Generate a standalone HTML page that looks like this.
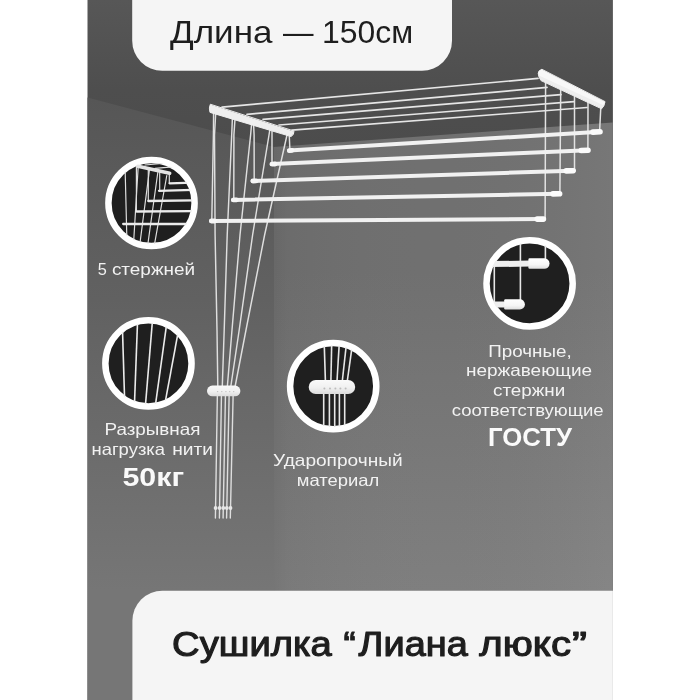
<!DOCTYPE html>
<html lang="ru">
<head>
<meta charset="utf-8">
<title>Сушилка “Лиана люкс”</title>
<style>
  html, body { margin: 0; padding: 0; background: #ffffff; }
  body { width: 700px; height: 700px; overflow: hidden; font-family: "Liberation Sans", sans-serif; }
  svg { display: block; }
  text { font-family: "Liberation Sans", sans-serif; }
  .hd { fill: #1e1e1e; font-size: 31.5px; }
  .ft { fill: #1e1e1e; font-size: 35.2px; stroke: #1e1e1e; stroke-width: 1.15px; stroke-linejoin: round; }
  .lbl { fill: #f2f2f2; font-size: 16.5px; }
  .big { fill: #fafafa; font-size: 25px; font-weight: bold; }
</style>
</head>
<body>
<svg width="700" height="700" viewBox="0 0 700 700">
  <defs>
    <linearGradient id="gCeil" gradientUnits="userSpaceOnUse" x1="0" y1="0" x2="0" y2="150">
      <stop offset="0" stop-color="#575757"/>
      <stop offset="0.6" stop-color="#4e4e4e"/>
      <stop offset="1" stop-color="#4c4c4c"/>
    </linearGradient>
    <linearGradient id="gLeft" gradientUnits="userSpaceOnUse" x1="0" y1="97" x2="0" y2="590">
      <stop offset="0" stop-color="#565656"/>
      <stop offset="0.41" stop-color="#616161"/>
      <stop offset="1" stop-color="#767676"/>
    </linearGradient>
    <linearGradient id="gRight" gradientUnits="userSpaceOnUse" x1="0" y1="122" x2="0" y2="590">
      <stop offset="0" stop-color="#707070"/>
      <stop offset="0.32" stop-color="#707070"/>
      <stop offset="1" stop-color="#7f7f7f"/>
    </linearGradient>
    <linearGradient id="gCorner" x1="0" y1="0" x2="1" y2="0">
      <stop offset="0" stop-color="#000000" stop-opacity="0.03"/>
      <stop offset="1" stop-color="#000000" stop-opacity="0"/>
    </linearGradient>
    <linearGradient id="gRightH" gradientUnits="userSpaceOnUse" x1="274" y1="0" x2="613" y2="0">
      <stop offset="0" stop-color="#000000" stop-opacity="0.045"/>
      <stop offset="0.5" stop-color="#808080" stop-opacity="0"/>
      <stop offset="1" stop-color="#ffffff" stop-opacity="0.05"/>
    </linearGradient>
    <linearGradient id="gCap" x1="0" y1="0" x2="0" y2="1">
      <stop offset="0" stop-color="#ffffff"/>
      <stop offset="0.6" stop-color="#f6f6f6"/>
      <stop offset="1" stop-color="#dedede"/>
    </linearGradient>
    <linearGradient id="gClip" x1="0" y1="0" x2="0" y2="1">
      <stop offset="0" stop-color="#fafafa"/>
      <stop offset="0.55" stop-color="#f0f0f0"/>
      <stop offset="1" stop-color="#dcdcdc"/>
    </linearGradient>
    <filter id="soft" x="0" y="0" width="700" height="700" filterUnits="userSpaceOnUse" color-interpolation-filters="sRGB">
      <feGaussianBlur stdDeviation="0.35"/>
    </filter>
    <clipPath id="c1"><circle cx="151.5" cy="203" r="41"/></clipPath>
    <clipPath id="c2"><circle cx="148.45" cy="363.4" r="41"/></clipPath>
    <clipPath id="c3"><circle cx="333.2" cy="386.2" r="41"/></clipPath>
    <clipPath id="c4"><circle cx="529.6" cy="283.4" r="41"/></clipPath>
  </defs>

  <!-- page -->
  <rect x="0" y="0" width="700" height="700" fill="#ffffff"/>

  <!-- room -->
  <g id="room">
    <rect x="87.5" y="0" width="525.4" height="700" fill="url(#gCeil)"/>
    <polygon points="87.5,97.4 274,147 274,700 87.5,700" fill="url(#gLeft)"/>
    <polygon points="274,147 612.9,122.5 612.9,700 274,700" fill="url(#gRight)"/>
    <rect x="274" y="147" width="14" height="553" fill="url(#gCorner)"/>
    <polygon points="274,147 612.9,122.5 612.9,700 274,700" fill="url(#gRightH)"/>
  </g>

  <!-- dryer -->
  <g id="dryer" stroke-linecap="round" fill="none" filter="url(#soft)">
    <!-- ceiling strings -->
    <g stroke="#e6e6e6" stroke-width="1.7">
      <line x1="222" y1="107.2" x2="538" y2="78.4"/>
      <line x1="247" y1="114.3" x2="547" y2="87.4"/>
      <line x1="263" y1="119.3" x2="561" y2="94.6"/>
      <line x1="279" y1="125" x2="574" y2="101.6"/>
      <line x1="292" y1="130.2" x2="587" y2="107.5"/>
    </g>
    <!-- right hangers -->
    <g stroke="#e2e2e2" stroke-width="1.5">
      <line x1="545.6" y1="82" x2="545.1" y2="219"/>
      <line x1="560.7" y1="89" x2="559.9" y2="193.5"/>
      <line x1="574.5" y1="96" x2="574.5" y2="170.5"/>
      <line x1="588" y1="102" x2="587.9" y2="150"/>
      <line x1="600.8" y1="107" x2="599.6" y2="131.5"/>
    </g>
    <!-- left hangers + pull cords -->
    <g stroke="#dfdfdf" stroke-width="1.45" stroke-linejoin="round">
      <polyline points="213.6,112 213.4,135 211.8,220"/>
      <polyline points="235,119 233.9,135 233.8,199"/>
      <polyline points="253.6,125 254.1,135 254.2,180"/>
      <polyline points="272,131 272,163.5"/>
      <polyline points="289.3,136 289.9,150"/>
      <polyline points="215.7,113 214.5,135 215.1,235 217,330 217.8,386"/>
      <polyline points="232.4,118 231.7,135 227.2,235 224.2,330 222.3,386"/>
      <polyline points="251.6,124 250.6,135 240,235 232,330 227.4,386"/>
      <polyline points="269.8,130 269,135 252.6,235 239.2,330 230.9,386"/>
      <polyline points="287,135 264.6,235 246,330 235.2,386"/>
    </g>
    <!-- rods -->
    <g stroke="#f1f1f1" stroke-width="4">
      <line x1="289" y1="150.6" x2="600" y2="131.8"/>
      <line x1="271.5" y1="164.1" x2="588" y2="150.2"/>
      <line x1="252.5" y1="181" x2="573" y2="170.7"/>
      <line x1="233" y1="199.9" x2="560" y2="193.8"/>
      <line x1="211" y1="221" x2="544" y2="219.1"/>
    </g>
    <!-- rod caps -->
    <g stroke="#fbfbfb" stroke-width="5.6">
      <line x1="593" y1="132.1" x2="600" y2="131.7"/>
      <line x1="581.2" y1="150.5" x2="588" y2="150.2"/>
      <line x1="566.3" y1="170.9" x2="573.2" y2="170.7"/>
      <line x1="553" y1="193.9" x2="559.6" y2="193.8"/>
      <line x1="537.2" y1="219.1" x2="543.4" y2="219.1"/>
    </g>
    <g stroke="#f6f6f6" stroke-width="4.8">
      <line x1="289.4" y1="150.6" x2="292" y2="150.4"/>
      <line x1="272.2" y1="164.1" x2="275" y2="164"/>
      <line x1="252.9" y1="181" x2="256" y2="180.9"/>
      <line x1="233.4" y1="199.9" x2="236.5" y2="199.8"/>
      <line x1="211.4" y1="221" x2="214.5" y2="221"/>
    </g>
    <!-- brackets -->
    <path d="M210.2,104.6 Q208.6,108 210,112.4 L291.2,136.6 Q294.2,134.6 294,131.4 Z" fill="#efefef" stroke="#efefef" stroke-width="1" stroke-linejoin="round"/>
    <path d="M541.5,69.4 Q535,71.5 541,80.6 L601.6,108.8 Q604.6,106 605,102 Z" fill="#eeeeee" stroke="#eeeeee" stroke-width="1" stroke-linejoin="round"/>
    <path d="M541.5,69.6 Q536,71.8 540,76 L603,105 L605,102 Z" fill="#f8f8f8" stroke="none"/>
    <!-- cords below the clip -->
    <g stroke="#dedede" stroke-width="1.4">
      <line x1="217.4" y1="392" x2="215.4" y2="518"/>
      <line x1="221.5" y1="392" x2="219.4" y2="518"/>
      <line x1="225.5" y1="392" x2="223.1" y2="518"/>
      <line x1="229.2" y1="392" x2="226.6" y2="518"/>
      <line x1="233.2" y1="392" x2="230.3" y2="518"/>
    </g>
    <g fill="#e6e6e6" stroke="none">
      <circle cx="215.6" cy="508" r="1.9"/>
      <circle cx="219.6" cy="508" r="1.9"/>
      <circle cx="223.3" cy="508" r="1.9"/>
      <circle cx="226.8" cy="508" r="1.9"/>
      <circle cx="230.5" cy="508" r="1.9"/>
    </g>
    <rect x="207" y="385.6" width="33.4" height="10.6" rx="5.3" fill="url(#gClip)" stroke="none"/>
    <g fill="#bdbdbd" stroke="none">
      <circle cx="217.6" cy="391.6" r="0.7"/>
      <circle cx="221.8" cy="391.6" r="0.7"/>
      <circle cx="225.9" cy="391.6" r="0.7"/>
      <circle cx="229.7" cy="391.6" r="0.7"/>
      <circle cx="233.7" cy="391.6" r="0.7"/>
    </g>
  </g>

  <!-- circle 1 : 5 rods -->
  <g id="circ1" filter="url(#soft)">
    <circle cx="151.5" cy="203" r="43.1" fill="#1f1f1f" stroke="#ffffff" stroke-width="6.5"/>
    <g clip-path="url(#c1)" stroke="#dedede" fill="none" stroke-linecap="round">
      <g stroke-width="1.2">
        <line x1="125.2" y1="172" x2="126.9" y2="240"/>
        <line x1="136.4" y1="166.5" x2="136.4" y2="211.5"/>
        <line x1="138.2" y1="166.8" x2="133.4" y2="246"/>
        <line x1="148.3" y1="169.5" x2="148.3" y2="201"/>
        <line x1="149.5" y1="169.5" x2="139.6" y2="246"/>
        <line x1="159.7" y1="172.5" x2="159.7" y2="190.8"/>
        <line x1="157.8" y1="172.5" x2="147.6" y2="246"/>
        <line x1="169.3" y1="174.8" x2="169.3" y2="183.3"/>
        <line x1="166.8" y1="175.5" x2="154.2" y2="246"/>
        <line x1="145" y1="165" x2="200" y2="160"/>
        <line x1="155" y1="168.4" x2="200" y2="164.5"/>
      </g>
      <g stroke-width="2.3" stroke="#ececec">
        <line x1="169.6" y1="183.3" x2="200" y2="182.4"/>
        <line x1="159" y1="190.8" x2="200" y2="189.8"/>
        <line x1="148.3" y1="201" x2="200" y2="200.2"/>
        <line x1="136.6" y1="211.5" x2="200" y2="211"/>
        <line x1="123.2" y1="224" x2="200" y2="224"/>
      </g>
      <line x1="138" y1="166.2" x2="169.6" y2="173.3" stroke="#e4e4e4" stroke-width="3.7"/>
    </g>
  </g>

  <!-- circle 2 : strings -->
  <g id="circ2" filter="url(#soft)">
    <circle cx="148.45" cy="363.4" r="43.1" fill="#1f1f1f" stroke="#ffffff" stroke-width="6.5"/>
    <g clip-path="url(#c2)" stroke="#ececec" stroke-width="1.6" fill="none">
      <line x1="122.2" y1="320" x2="124.8" y2="406"/>
      <line x1="137.6" y1="320" x2="134.4" y2="406"/>
      <line x1="152.5" y1="320" x2="145.4" y2="406"/>
      <line x1="167.2" y1="320" x2="155.3" y2="406"/>
      <line x1="180.4" y1="320" x2="164.5" y2="406"/>
    </g>
  </g>

  <!-- circle 3 : clip -->
  <g id="circ3" filter="url(#soft)">
    <circle cx="333.2" cy="386.2" r="43.1" fill="#1f1f1f" stroke="#ffffff" stroke-width="6.5"/>
    <g clip-path="url(#c3)" stroke="#e6e6e6" stroke-width="1.6" fill="none">
      <line x1="324.2" y1="343" x2="325.4" y2="381"/>
      <line x1="331.7" y1="343" x2="330.9" y2="381"/>
      <line x1="339.3" y1="343" x2="337" y2="381"/>
      <line x1="346.5" y1="343" x2="342.3" y2="381"/>
      <line x1="352.6" y1="343" x2="347.3" y2="381"/>
      <line x1="323.7" y1="392" x2="323.7" y2="431"/>
      <line x1="329.4" y1="392" x2="329.4" y2="431"/>
      <line x1="334.7" y1="392" x2="334.7" y2="431"/>
      <line x1="339.4" y1="392" x2="339.4" y2="431"/>
      <line x1="344.7" y1="392" x2="344.7" y2="431"/>
    </g>
    <rect x="308.7" y="380" width="46.5" height="14" rx="7" fill="url(#gClip)"/>
    <g fill="#bcbcbc">
      <circle cx="324.4" cy="388.6" r="1"/>
      <circle cx="330" cy="388.6" r="1"/>
      <circle cx="335.4" cy="388.6" r="1"/>
      <circle cx="340.4" cy="388.6" r="1"/>
      <circle cx="345.6" cy="388.6" r="1"/>
    </g>
  </g>

  <!-- circle 4 : rod caps -->
  <g id="circ4" filter="url(#soft)">
    <circle cx="529.6" cy="283.4" r="43.1" fill="#1f1f1f" stroke="#ffffff" stroke-width="6.5"/>
    <g clip-path="url(#c4)" fill="none">
      <g stroke="#e6e6e6" stroke-width="1.6">
        <line x1="520.4" y1="240" x2="520.4" y2="300"/>
        <line x1="545.4" y1="240" x2="545.4" y2="259"/>
        <line x1="494.3" y1="266" x2="494.3" y2="302"/>
      </g>
      <line x1="480" y1="264.2" x2="530" y2="263.6" stroke="#efefef" stroke-width="6"/>
      <path d="M529.6,258.3 H544.3 A5.25,5.25 0 0 1 544.3,268.8 H529.6 Q528.4,268.8 528.4,267.6 V259.5 Q528.4,258.3 529.6,258.3 Z" fill="url(#gCap)"/>
      <line x1="480" y1="304.7" x2="506" y2="304.4" stroke="#efefef" stroke-width="6"/>
      <path d="M505.4,299.3 H519.8 A5.1,5.1 0 0 1 519.8,309.5 H505.4 Q504.2,309.5 504.2,308.3 V300.5 Q504.2,299.3 505.4,299.3 Z" fill="url(#gCap)"/>
    </g>
  </g>

  <!-- panels -->
  <path d="M132.2,0 H452 V40.8 A30,30 0 0 1 422,70.8 H162.2 A30,30 0 0 1 132.2,40.8 Z" fill="#f5f5f5"/>
  <path d="M132.4,700 V620.8 A30,30 0 0 1 162.4,590.8 H612.9 V700 Z" fill="#f5f5f5"/>

  <!-- texts -->
  <g id="texts" filter="url(#soft)">
    <text class="hd" x="170.0" y="43.1" textLength="102.47" lengthAdjust="spacingAndGlyphs">Длина</text>
    <text class="hd" x="283.0" y="43.1" textLength="30.52" lengthAdjust="spacingAndGlyphs">—</text>
    <text class="hd" x="321.97" y="43.1" textLength="91.1" lengthAdjust="spacingAndGlyphs">150см</text>
    <text class="ft" x="172.11" y="655.7" textLength="159.72" lengthAdjust="spacingAndGlyphs">Сушилка</text>
    <text class="ft" x="343.46" y="655.7" textLength="12.19" lengthAdjust="spacingAndGlyphs">“</text>
    <text class="ft" x="358.6" y="655.7" textLength="109.14" lengthAdjust="spacingAndGlyphs">Лиана</text>
    <text class="ft" x="479.3" y="655.7" textLength="91.68" lengthAdjust="spacingAndGlyphs">люкс</text>
    <text class="ft" x="572.12" y="655.7" textLength="15.0" lengthAdjust="spacingAndGlyphs">”</text>
    <text class="lbl" x="97.7" y="275.0" textLength="9.07" lengthAdjust="spacingAndGlyphs">5</text>
    <text class="lbl" x="111.9" y="275.0" textLength="83.25" lengthAdjust="spacingAndGlyphs">стержней</text>
    <text class="lbl" x="104.46" y="434.5" textLength="96.01" lengthAdjust="spacingAndGlyphs">Разрывная</text>
    <text class="lbl" x="91.48" y="454.6" textLength="73.6" lengthAdjust="spacingAndGlyphs">нагрузка</text>
    <text class="lbl" x="172.24" y="454.6" textLength="40.81" lengthAdjust="spacingAndGlyphs">нити</text>
    <text class="big" x="122.4" y="486.4" textLength="61.7" lengthAdjust="spacingAndGlyphs">50кг</text>
    <text class="lbl" x="273.0" y="466.3" textLength="129.65" lengthAdjust="spacingAndGlyphs">Ударопрочный</text>
    <text class="lbl" x="296.88" y="486.0" textLength="82.42" lengthAdjust="spacingAndGlyphs">материал</text>
    <text class="lbl" x="488.26" y="356.5" textLength="83.41" lengthAdjust="spacingAndGlyphs">Прочные,</text>
    <text class="lbl" x="465.95" y="376.3" textLength="126.15" lengthAdjust="spacingAndGlyphs">нержавеющие</text>
    <text class="lbl" x="493.0" y="396.2" textLength="72.25" lengthAdjust="spacingAndGlyphs">стержни</text>
    <text class="lbl" x="451.7" y="416.1" textLength="151.9" lengthAdjust="spacingAndGlyphs">соответствующие</text>
    <text class="big" x="487.97" y="446.2" textLength="83.97" lengthAdjust="spacingAndGlyphs">ГОСТУ</text>
  </g>
</svg>
</body>
</html>
